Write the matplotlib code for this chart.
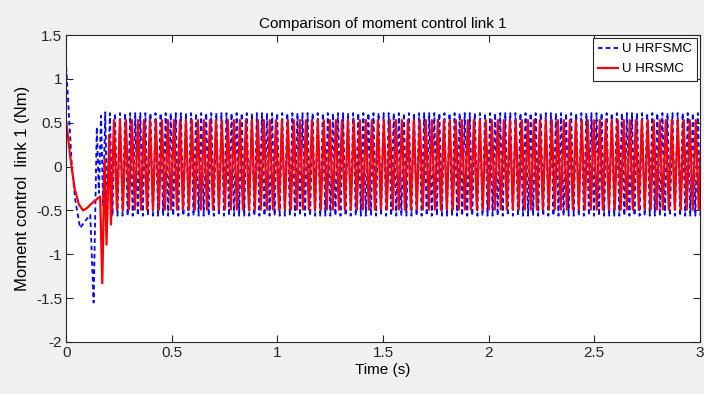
import numpy as np
import matplotlib
matplotlib.use('Agg')
import matplotlib.pyplot as plt

plt.rcParams['font.family'] = ['Liberation Sans', 'DejaVu Sans']

# transient turning points (time s, moment Nm)
blue_t0 = [0.0, 0.027, 0.043, 0.066, 0.09, 0.114, 0.130, 0.145, 0.155, 0.165, 0.175, 0.185, 0.195]
blue_u0 = [1.14, 0.0, -0.38, -0.70, -0.62, -0.55, -1.55, 0.45, -0.30, 0.58, -0.45, 0.62, -0.55]
red_t0 = [0.0, 0.02, 0.04, 0.06, 0.08, 0.10, 0.13, 0.161, 0.171, 0.182, 0.191, 0.204, 0.212]
red_u0 = [0.52, 0.10, -0.25, -0.43, -0.50, -0.47, -0.40, -0.34, -1.33, 0.08, -0.89, 0.36, -0.66]

# steady switching: half period and the two levels seen after ~0.2 s
blue_half = 0.0120
blue_hi, blue_lo = 0.61, -0.56
red_half = 0.0142
red_hi, red_lo = 0.53, -0.49
t_end = 3.0


def chatter(t_start, u_start, half, hi, lo):
    ts = np.arange(t_start + half, t_end + half, half)
    first, second = (hi, lo) if u_start < 0 else (lo, hi)
    us = np.where(np.arange(len(ts)) % 2 == 0, first, second)
    return ts, us


bt, bu = chatter(blue_t0[-1], blue_u0[-1], blue_half, blue_hi, blue_lo)
rt, ru = chatter(red_t0[-1], red_u0[-1], red_half, red_hi, red_lo)
blue_t = np.concatenate([blue_t0, bt])
blue_u = np.concatenate([blue_u0, bu])
red_t = np.concatenate([red_t0, rt])
red_u = np.concatenate([red_u0, ru])

fig = plt.figure(figsize=(7.04, 3.94), dpi=100, facecolor='#f0f0f0')
ax = fig.add_axes([0.094, 0.132, 0.900, 0.779])
ax.set_facecolor('white')

ax.plot(blue_t, blue_u, color='#0000ff', lw=1.3, ls=(0, (2.5, 1.8)), label='U HRFSMC')
ax.plot(red_t, red_u, color='#ff0000', lw=1.6, label='U HRSMC')

ax.set_xlim(0, 3)
ax.set_ylim(-2, 1.5)
ax.set_xticks(np.arange(0, 3.01, 0.5))
ax.set_xticklabels(['0', '0.5', '1', '1.5', '2', '2.5', '3'])
ax.set_yticks(np.arange(-2, 1.51, 0.5))
ax.set_yticklabels(['-2', '-1.5', '-1', '-0.5', '0', '0.5', '1', '1.5'])
ax.tick_params(direction='in', top=True, right=True, length=5, width=0.8,
               labelsize=11, colors='#262626', pad=3)
for s in ax.spines.values():
    s.set_color('#262626')
    s.set_linewidth(0.8)

ax.set_title('Comparison of moment control link 1', fontsize=11, pad=5)
ax.set_xlabel('Time (s)', fontsize=11, labelpad=2)
ax.set_ylabel('Moment control  link 1 (Nm)', fontsize=12, labelpad=4)

leg = ax.legend(loc='upper right', fontsize=9.5, handlelength=1.5, handletextpad=0.3,
                borderaxespad=0.2, fancybox=False, edgecolor='#262626', framealpha=1,
                borderpad=0.4, labelspacing=0.6)
leg.get_frame().set_linewidth(0.8)

fig.savefig('out.png', dpi=100, facecolor=fig.get_facecolor())
